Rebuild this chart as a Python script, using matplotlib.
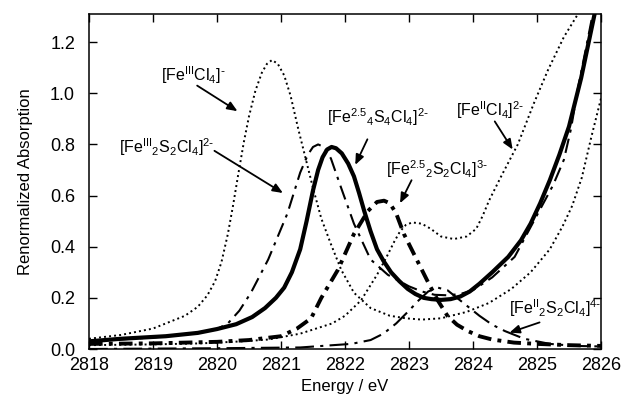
"""
Fe K-pre-edge / S K-edge 比较图 —— 重新绘制
"""

import matplotlib

matplotlib.use("Agg")
import matplotlib.pyplot as plt

plt.rcParams["font.family"] = ["Liberation Sans", "DejaVu Sans"]
plt.rcParams["mathtext.default"] = "regular"

# ── 数据 ────────────────────────────────────────
# [Fe(III)Cl4]-  细点线
e_fe3cl4 = [2818.0, 2818.5, 2819.0, 2819.5, 2819.7, 2819.85, 2819.97, 2820.07,
            2820.17, 2820.25, 2820.33, 2820.42, 2820.5, 2820.6, 2820.7, 2820.78,
            2820.86, 2820.95, 2821.05, 2821.15, 2821.27, 2821.39, 2821.5, 2821.63,
            2821.78, 2821.94, 2822.14, 2822.4, 2822.7, 2822.95, 2823.2, 2823.5,
            2823.9, 2824.25, 2824.6, 2824.9, 2825.2, 2825.4, 2825.55, 2825.7,
            2825.85, 2826.0]
a_fe3cl4 = [0.04, 0.055, 0.08, 0.13, 0.165, 0.21, 0.265, 0.34,
            0.45, 0.56, 0.68, 0.81, 0.91, 1.01, 1.08, 1.115,
            1.13, 1.115, 1.07, 0.99, 0.86, 0.74, 0.63, 0.51,
            0.41, 0.31, 0.22, 0.16, 0.13, 0.12, 0.115, 0.12,
            0.145, 0.18, 0.235, 0.30, 0.39, 0.48, 0.56, 0.67,
            0.83, 0.98]

# [Fe(II)Cl4]2-  细点线
e_fe2cl4 = [2818.0, 2819.0, 2819.75, 2820.4, 2820.8, 2821.3, 2821.8, 2822.0,
            2822.25, 2822.5, 2822.65, 2822.77, 2822.86, 2822.95, 2823.05, 2823.2,
            2823.34, 2823.5, 2823.7, 2823.9, 2824.05, 2824.15, 2824.25, 2824.45,
            2824.7, 2824.95, 2825.17, 2825.42, 2825.64]
a_fe2cl4 = [0.015, 0.018, 0.022, 0.03, 0.037, 0.06, 0.10, 0.13,
            0.19, 0.29, 0.36, 0.42, 0.46, 0.485, 0.495, 0.49,
            0.47, 0.44, 0.43, 0.44, 0.47, 0.52, 0.58, 0.68,
            0.80, 0.96, 1.09, 1.22, 1.31]

# [Fe(2.5)4S4Cl4]2-  粗实线
e_fe4s4 = [2818.0, 2818.5, 2819.2, 2819.7, 2820.0, 2820.3, 2820.55, 2820.75,
           2820.92, 2821.05, 2821.17, 2821.3, 2821.4, 2821.5, 2821.58, 2821.65,
           2821.72, 2821.79, 2821.86, 2821.95, 2822.05, 2822.14, 2822.22, 2822.3,
           2822.4, 2822.5, 2822.6, 2822.72, 2822.85, 2822.98, 2823.1, 2823.23,
           2823.35, 2823.5, 2823.65, 2823.8, 2823.95, 2824.1, 2824.3, 2824.55,
           2824.75, 2824.9, 2825.05, 2825.2, 2825.35, 2825.5, 2825.69, 2825.9]
a_fe4s4 = [0.03, 0.04, 0.05, 0.063, 0.078, 0.097, 0.125, 0.16,
           0.20, 0.24, 0.30, 0.39, 0.50, 0.62, 0.70, 0.75,
           0.78, 0.79, 0.785, 0.765, 0.725, 0.675, 0.61, 0.54,
           0.46, 0.39, 0.345, 0.30, 0.265, 0.235, 0.215, 0.20,
           0.195, 0.192, 0.195, 0.205, 0.225, 0.255, 0.30, 0.36,
           0.425, 0.49, 0.57, 0.66, 0.76, 0.87, 1.06, 1.31]

# [Fe(III)2S2Cl4]2-  点划线
e_fe3s2 = [2818.0, 2819.0, 2819.6, 2820.0, 2820.17, 2820.35, 2820.53, 2820.8,
           2821.1, 2821.3, 2821.42, 2821.5, 2821.58, 2821.67, 2821.78, 2821.94,
           2822.14, 2822.4, 2822.67, 2823.0, 2823.2, 2823.4, 2823.6, 2823.8,
           2824.0, 2824.3, 2824.65, 2824.95, 2825.25, 2825.42, 2825.53, 2825.64,
           2825.8, 2825.87]
a_fe3s2 = [0.03, 0.045, 0.06, 0.078, 0.10, 0.15, 0.22, 0.35,
           0.53, 0.69, 0.76, 0.79, 0.80, 0.79, 0.745, 0.63,
           0.49, 0.35, 0.29, 0.245, 0.225, 0.212, 0.21, 0.215,
           0.23, 0.28, 0.36, 0.50, 0.64, 0.74, 0.86, 1.02,
           1.22, 1.31]

# [Fe(2.5)2S2Cl4]3-  粗点划线
e_fe25s2 = [2818.0, 2819.0, 2820.0, 2820.5, 2821.0, 2821.25, 2821.47, 2821.63,
            2821.89, 2822.14, 2822.36, 2822.5, 2822.61, 2822.7, 2822.8, 2822.92,
            2823.14, 2823.3, 2823.45, 2823.6, 2823.75, 2823.92, 2824.1, 2824.3,
            2824.64, 2825.0, 2825.5, 2826.0]
a_fe25s2 = [0.02, 0.022, 0.028, 0.035, 0.05, 0.08, 0.12, 0.20,
            0.31, 0.45, 0.54, 0.575, 0.58, 0.57, 0.53, 0.45,
            0.34, 0.26, 0.19, 0.13, 0.095, 0.07, 0.05, 0.037,
            0.025, 0.02, 0.015, 0.012]

# [Fe(II)2S2Cl4]4-  长点划线
e_fe2s2 = [2818.0, 2820.0, 2821.3, 2822.1, 2822.4, 2822.6, 2822.8, 2823.0,
           2823.15, 2823.3, 2823.45, 2823.6, 2823.8, 2824.1, 2824.3, 2824.5,
           2824.8, 2825.2, 2825.6, 2826.0]
a_fe2s2 = [0.0, 0.003, 0.006, 0.02, 0.035, 0.06, 0.10, 0.15,
           0.19, 0.225, 0.24, 0.23, 0.19, 0.13, 0.095, 0.07,
           0.04, 0.02, 0.012, 0.01]

labels = [
    r"$[Fe^{III}Cl_4]^{\text{-}}$",
    r"$[Fe^{III}{}_2S_2Cl_4]^{2\text{-}}$",
    r"$[Fe^{2.5}{}_4S_4Cl_4]^{2\text{-}}$",
    r"$[Fe^{2.5}{}_2S_2Cl_4]^{3\text{-}}$",
    r"$[Fe^{II}Cl_4]^{2\text{-}}$",
    r"$[Fe^{II}{}_2S_2Cl_4]^{4\text{-}}$",
]

# ── 绘图 ─────────────────────────────────────────────────
fig = plt.figure(figsize=(6.21, 3.98), dpi=100)
ax = fig.add_axes([89 / 621, 1 - 349 / 398, 512 / 621, 335 / 398])

ax.plot(e_fe3cl4, a_fe3cl4, color="black", lw=1.4, linestyle=(0, (1, 1.6)))
ax.plot(e_fe2cl4, a_fe2cl4, color="black", lw=1.4, linestyle=(0, (1, 1.6)))
ax.plot(e_fe3s2, a_fe3s2, color="black", lw=1.5, linestyle=(0, (7, 3, 1.5, 3)))
ax.plot(e_fe25s2, a_fe25s2, color="black", lw=2.8, linestyle=(0, (3.5, 1.6, 1, 1.6)))
ax.plot(e_fe2s2, a_fe2s2, color="black", lw=1.5, linestyle=(0, (9, 3, 1.5, 3)))
ax.plot(e_fe4s4, a_fe4s4, color="black", lw=3.0, solid_capstyle="round",
        solid_joinstyle="round")

ax.set_xlim(2818, 2826)
ax.set_ylim(0, 1.31)
ax.set_xticks(range(2818, 2827))
ax.set_yticks([0.0, 0.2, 0.4, 0.6, 0.8, 1.0, 1.2])
ax.set_yticklabels(["0.0", "0.2", "0.4", "0.6", "0.8", "1.0", "1.2"])
ax.tick_params(direction="in", length=6, width=1.0, top=True, right=True,
               labelsize=13)
ax.tick_params(axis="x", pad=6)
ax.tick_params(axis="y", pad=10)
for sp in ax.spines.values():
    sp.set_linewidth(1.1)

ax.set_xlabel("Energy / eV", fontsize=12, labelpad=3)
ax.set_ylabel("Renormalized Absorption", fontsize=12, labelpad=12)

# -- 标注 --
arrow = dict(arrowstyle="-|>,head_length=0.6,head_width=0.25", color="black",
             lw=1.3, shrinkA=0, shrinkB=0)
notes = [
    # (label, text xy, arrow start, arrow tip)
    (labels[0], (2819.63, 1.07), (2819.69, 1.03), (2820.32, 0.93)),
    (labels[1], (2819.22, 0.79), (2819.96, 0.775), (2821.03, 0.61)),
    (labels[2], (2822.52, 0.905), (2822.35, 0.82), (2822.16, 0.72)),
    (labels[3], (2823.44, 0.705), (2823.04, 0.66), (2822.86, 0.57)),
    (labels[4], (2824.26, 0.935), (2824.34, 0.89), (2824.62, 0.78)),
    (labels[5], (2825.28, 0.16), (2825.04, 0.104), (2824.57, 0.064)),
]
for text, txy, start, tip in notes:
    ax.text(txy[0], txy[1], text, fontsize=11.5, ha="center", va="center")
    ax.annotate("", xy=tip, xytext=start, arrowprops=arrow)

fig.savefig("out.png", dpi=100)
plt.close(fig)
